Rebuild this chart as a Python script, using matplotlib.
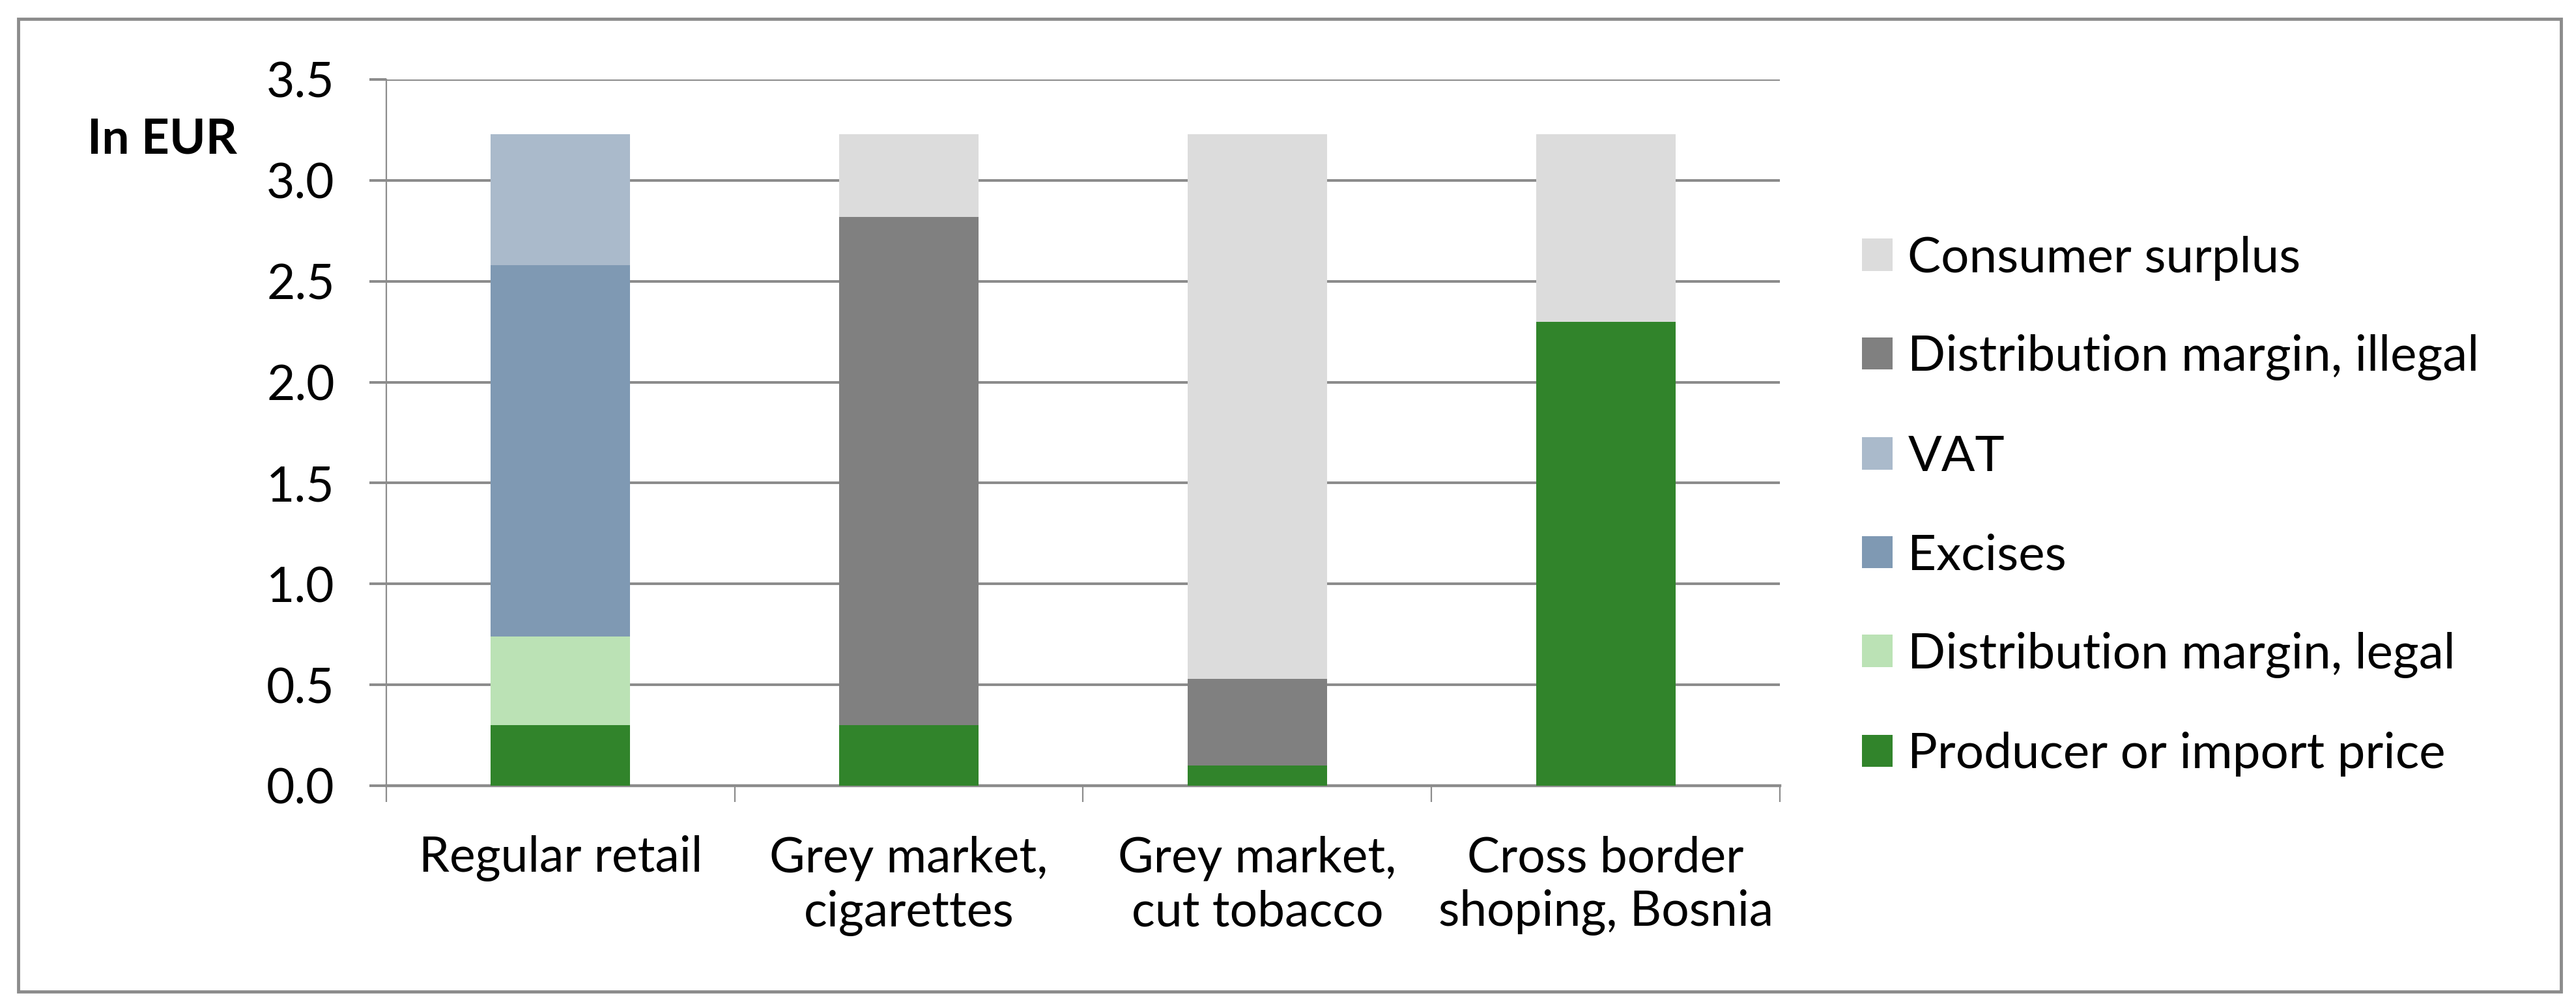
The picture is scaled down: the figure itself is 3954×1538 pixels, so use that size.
import matplotlib
matplotlib.use("Agg")
import matplotlib.pyplot as plt
from matplotlib.patches import Patch, Rectangle
import matplotlib.font_manager as fm

categories = ["Regular retail", "Grey market,\ncigarettes", "Grey market,\ncut tobacco", "Cross border\nshoping, Bosnia"]

producer_price = [0.30, 0.30, 0.10, 2.30]
margin_legal = [0.44, 0.00, 0.00, 0.00]
excises = [1.84, 0.00, 0.00, 0.00]
vat = [0.65, 0.00, 0.00, 0.00]
margin_illegal = [0.00, 2.52, 0.43, 0.00]
consumer_surplus = [0.00, 0.41, 2.70, 0.93]

series = [
    ("Producer or import price", producer_price, "#31842B"),
    ("Distribution margin, legal", margin_legal, "#BBE2B5"),
    ("Excises", excises, "#7F99B3"),
    ("VAT", vat, "#AABACB"),
    ("Distribution margin, illegal", margin_illegal, "#808080"),
    ("Consumer surplus", consumer_surplus, "#DCDCDC"),
]

y_ticks = [0.0, 0.5, 1.0, 1.5, 2.0, 2.5, 3.0, 3.5]

names = {f.name for f in fm.fontManager.ttflist}
family = "Liberation Sans Narrow" if "Liberation Sans Narrow" in names else "Lato"
plt.rcParams["font.family"] = [family, "DejaVu Sans"]

W, H = 3955, 1538
fig = plt.figure(figsize=(W / 100, H / 100), dpi=100)
grey = "#8C8C8C"

ax = fig.add_axes([593 / W, 1 - 1206 / H, (2732 - 593) / W, (1206 - 122) / H])
x = list(range(len(categories)))
bottom = [0.0] * len(categories)
for label, vals, color in series:
    ax.bar(x, vals, width=0.4, bottom=bottom, color=color, label=label, zorder=3)
    bottom = [b + v for b, v in zip(bottom, vals)]

ax.set_xlim(-0.5, len(categories) - 0.5)
ax.set_ylim(0, 3.5)
ax.set_yticks(y_ticks)
ax.set_yticklabels([f"{t:.1f}" for t in y_ticks])
ax.yaxis.grid(True, color=grey, linewidth=2.9, zorder=0)
ax.set_axisbelow(True)

for s in ["top", "right"]:
    ax.spines[s].set_visible(False)
ax.spines["left"].set_color(grey)
ax.spines["left"].set_linewidth(1.6)
ax.spines["bottom"].set_color(grey)
ax.spines["bottom"].set_linewidth(3.2)

ax.tick_params(axis="y", length=19, width=2.9, color=grey, pad=38, labelsize=54)
ax.set_xticks(x)
ax.set_xticklabels(categories, fontsize=54, linespacing=1.25)
ax.set_xticks([i - 0.5 for i in range(len(categories) + 1)], minor=True)
ax.tick_params(axis="x", which="major", length=0, pad=55)
ax.tick_params(axis="x", which="minor", length=18, width=1.6, color=grey)

fig.text(134 / W, 1 - 214 / H, "In EUR", fontsize=54, fontweight="bold", va="center", ha="left")

handles = [Patch(facecolor=c, label=l) for l, _, c in series][::-1]
fig.legend(handles=handles, loc="upper left", bbox_to_anchor=(2858 / W, 1 - 362 / H),
           frameon=False, fontsize=55, handlelength=0.62, handleheight=0.62,
           handletextpad=0.3, labelspacing=1.08, borderaxespad=0, borderpad=0)

fig.add_artist(Rectangle((28 / W, 1 - 1522 / H), (3931 - 28) / W, (1522 - 29) / H,
                         transform=fig.transFigure, fill=False, edgecolor=grey, linewidth=3.5))

fig.savefig("out.png", dpi=100)
